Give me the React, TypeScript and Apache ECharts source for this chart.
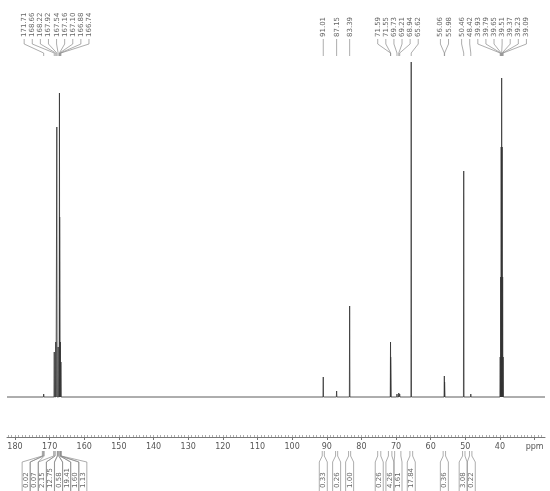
import React, { useEffect, useRef } from 'react';
import * as echarts from 'echarts';

// ---- data ----
const PPM_MIN = 27;
const PPM_MAX = 182.3;

const peakPpm = [
  171.71, 168.66, 168.22, 167.92, 167.54, 167.16, 167.1, 166.88, 166.74,
  91.01, 87.15, 83.39,
  71.59, 71.55, 69.73, 69.21, 68.94, 65.62,
  56.06, 55.98, 50.46, 48.42,
  39.93, 39.79, 39.65, 39.51, 39.37, 39.23, 39.09,
];
const peakHeight = [
  3, 45, 55, 270, 50, 304, 180, 55, 35,
  20, 6, 91,
  55, 40, 3, 4, 3, 335,
  21, 15, 226, 3,
  40, 120, 250, 319, 250, 120, 40,
];

const integralFrom = [172.1, 171.85, 168.85, 168.45, 167.75, 167.35, 166.98, 166.81, 91.3, 87.45, 83.7, 75.3, 72.2, 70.4, 66.0, 56.4, 50.8, 48.8];
const integralTo = [171.85, 171.55, 168.45, 167.75, 167.35, 166.98, 166.81, 166.6, 90.7, 86.85, 83.1, 74.4, 71.2, 68.6, 65.2, 55.7, 50.1, 48.1];
const integralValues = ['0.02', '0.07', '2.15', '12.75', '0.58', '19.41', '1.60', '1.13', '0.33', '0.26', '1.00', '0.26', '4.26', '1.61', '17.84', '0.36', '3.08', '0.22'];

const axisLabelValues = [30, 40, 50, 60, 70, 80, 90, 100, 110, 120, 130, 140, 150, 160, 170, 180];
const majorTickValues = [30, 40, 50, 60, 70, 80, 90, 100, 110, 120, 130, 140, 150, 160, 170, 180];
const minorTickValues: number[] = [];
for (let v = 28; v <= 182; v++) minorTickValues.push(v);

const PEAK_HALF_WIDTH = 0.08;

function buildTrace(): number[][] {
  const order = peakPpm.map((_, i) => i).sort((a, b) => peakPpm[b] - peakPpm[a]);
  const pts: number[][] = [[PPM_MAX, 0]];
  for (const i of order) {
    pts.push([peakPpm[i] + PEAK_HALF_WIDTH, 0]);
    pts.push([peakPpm[i], peakHeight[i]]);
    pts.push([peakPpm[i] - PEAK_HALF_WIDTH, 0]);
  }
  pts.push([PPM_MIN, 0]);
  return pts;
}

function spread(xs: number[], gap: number): number[] {
  const idx = xs.map((_, i) => i).sort((a, b) => xs[a] - xs[b]);
  const clusters: { members: number[]; center: number }[] = [];
  for (const i of idx) {
    clusters.push({ members: [i], center: xs[i] });
    while (clusters.length > 1) {
      const b = clusters[clusters.length - 1];
      const a = clusters[clusters.length - 2];
      const aEnd = a.center + ((a.members.length - 1) / 2) * gap;
      const bStart = b.center - ((b.members.length - 1) / 2) * gap;
      if (bStart - aEnd < gap) {
        const members = a.members.concat(b.members);
        const center = members.reduce((s, m) => s + xs[m], 0) / members.length;
        clusters.splice(clusters.length - 2, 2, { members, center });
      } else break;
    }
  }
  const out: number[] = new Array(xs.length);
  for (const c of clusters) {
    const n = c.members.length;
    c.members.forEach((m, k) => {
      out[m] = c.center - ((n - 1) / 2) * gap + k * gap;
    });
  }
  return out;
}

const FONT = '"DejaVu Sans", sans-serif';
const LABEL_COLOR = '#666';
const LEADER_COLOR = '#8a8a8a';

export default function App() {
  const ref = useRef<HTMLDivElement>(null);
  useEffect(() => {
    if (!ref.current) return;
    const chart = echarts.init(ref.current, null, { renderer: 'svg' });
    const option: any = {
      animation: false,
      grid: { left: 7, right: 5, top: 62, bottom: 89 },
      xAxis: [
        {
          type: 'value',
          min: PPM_MIN,
          max: PPM_MAX,
          inverse: true,
          position: 'bottom',
          offset: 35,
          axisLine: { show: true, onZero: false, lineStyle: { color: '#777', width: 1 } },
          axisTick: { show: true, customValues: majorTickValues, length: 3, lineStyle: { color: '#777' } },
          axisLabel: {
            customValues: axisLabelValues,
            formatter: (v: number) => (v === 30 ? 'ppm' : String(v)),
            fontSize: 8,
            color: '#555',
            fontFamily: FONT,
            margin: 5,
          },
          splitLine: { show: false },
        },
        {
          type: 'value',
          min: PPM_MIN,
          max: PPM_MAX,
          inverse: true,
          position: 'bottom',
          offset: 35,
          axisLine: { show: false, onZero: false },
          axisTick: { show: true, customValues: minorTickValues, inside: true, length: 2, lineStyle: { color: '#999', width: 0.8 } },
          axisLabel: { show: false },
          splitLine: { show: false },
        },
      ],
      yAxis: { type: 'value', min: -5, max: 335, show: false },
      series: [
        {
          type: 'line',
          xAxisIndex: 0,
          data: buildTrace(),
          showSymbol: false,
          silent: true,
          lineStyle: { color: '#333', width: 0.8 },
        },
      ],
    };
    chart.setOption(option);

    const px = (v: number) => chart.convertToPixel({ xAxisIndex: 0 }, v) as number;
    const elements: any[] = [];

    // peak labels on top
    const peakPx = peakPpm.map(px);
    const labelX = spread(peakPx, 8.1);
    peakPpm.forEach((p, i) => {
      const lx = labelX[i];
      elements.push({
        type: 'text',
        x: lx,
        y: 37,
        rotation: Math.PI / 2,
        silent: true,
        style: { text: p.toFixed(2), fill: LABEL_COLOR, fontSize: 7, fontFamily: FONT, align: 'left', verticalAlign: 'middle' },
      });
      elements.push({
        type: 'polyline',
        silent: true,
        shape: { points: [[lx, 39], [lx, 44], [peakPx[i], 53], [peakPx[i], 56]] },
        style: { stroke: LEADER_COLOR, lineWidth: 0.7, fill: null },
      });
    });

    // integrals at the bottom
    const intA = integralFrom.map(px);
    const intB = integralTo.map(px);
    const intCenter = intA.map((a, i) => (a + intB[i]) / 2);
    const intX = spread(intCenter, 8.1);
    integralValues.forEach((t, i) => {
      const lx = intX[i];
      elements.push({
        type: 'text',
        x: lx,
        y: 488,
        rotation: Math.PI / 2,
        silent: true,
        style: { text: t, fill: LABEL_COLOR, fontSize: 7, fontFamily: FONT, align: 'left', verticalAlign: 'middle' },
      });
      elements.push({
        type: 'polyline',
        silent: true,
        shape: { points: [[intA[i], 451], [intA[i], 456], [lx - 4, 462], [lx - 4, 491]] },
        style: { stroke: LEADER_COLOR, lineWidth: 0.7, fill: null },
      });
      elements.push({
        type: 'polyline',
        silent: true,
        shape: { points: [[intB[i], 451], [intB[i], 456], [lx + 4, 462], [lx + 4, 491]] },
        style: { stroke: LEADER_COLOR, lineWidth: 0.7, fill: null },
      });
    });

    chart.setOption({ graphic: { elements } });
    return () => chart.dispose();
  }, []);
  return <div ref={ref} style={{ position: 'fixed', left: 0, top: 0, width: 550, height: 491 }} />;
}
